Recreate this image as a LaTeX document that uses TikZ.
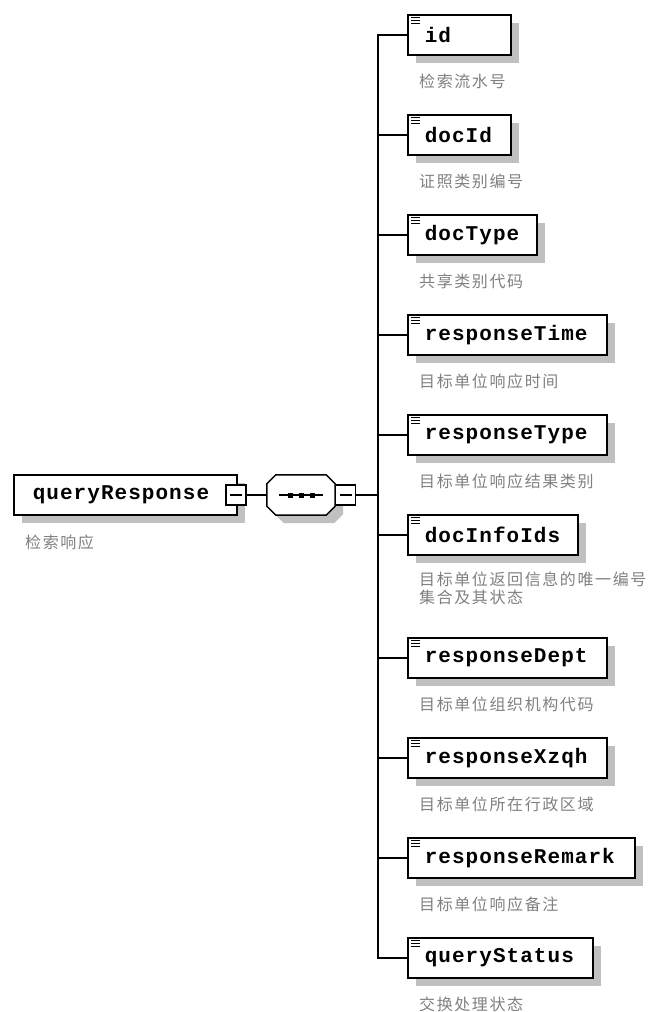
\documentclass[tikz,border=0pt]{standalone}
\usepackage{fontspec}
\usetikzlibrary{shadows,calc}
\newfontfamily\elemfont[LetterSpace=5]{Liberation Mono}
\newfontfamily\cjk[LetterSpace=10]{Noto Sans CJK SC}
\definecolor{shadowc}{HTML}{C0C0C0}
\definecolor{descc}{HTML}{808080}
\begin{document}
\begin{tikzpicture}[x=1pt,y=-1pt,
  conn/.style={line width=1.5pt, line join=miter},
  elem/.style={draw, line width=1.5pt, fill=white, anchor=west,
    drop shadow={shadow xshift=8pt,shadow yshift=-8pt,fill=shadowc,opacity=1},
    minimum height=40pt, inner xsep=0pt, inner ysep=0pt, align=left,
    font=\elemfont\bfseries\fontsize{21}{24}\selectfont},
  desc/.style={anchor=west, inner sep=0pt, align=left, text=descc,
    font=\cjk\fontsize{16}{19}\selectfont},
  icon/.style={line width=1pt},
  minusbox/.style={draw, line width=1.5pt, fill=white, minimum size=20pt, inner sep=0pt},
  seqbox/.style={minimum width=68pt, minimum height=40pt, inner sep=0pt}]
\useasboundingbox (0,0) rectangle (652,1012);
\newcommand\xicon[1]{%
  \foreach \dy in {3.5,6.5,9.5}
    \draw[icon] ($(#1.north west)+(4,\dy)$) -- ($(#1.north west)+(13,\dy)$);}
\newcommand\xelem[5]{%
  \node[elem, text width=#3pt] (#1) at (407,#2) {\hspace*{17pt}#4};
  \xicon{#1}
  \node[desc] (#1d) at (419,#2+46) {#5};
}
\newcommand\xoct{($(seq.north west)+(0,9)$) -- ($(seq.north west)+(9,0)$)
  -- ($(seq.north east)+(-9,0)$) -- ($(seq.north east)+(0,9)$)
  -- ($(seq.south east)+(0,-9)$) -- ($(seq.south east)+(-9,0)$)
  -- ($(seq.south west)+(9,0)$) -- ($(seq.south west)+(0,-9)$) -- cycle}
% root
\node[elem, text width=223pt] (root) at (13,495) {\hspace*{19pt}queryResponse};
\node[desc] (rootd) at (25,542) {检索响应};
\node[minusbox] (rminus) at (236,495) {};
\draw[conn] ($(rminus.center)+(-6,0)$) -- ($(rminus.center)+(6,0)$);
% sequence (octagon)
\node[seqbox] (seq) at (301,495) {};
\fill[shadowc, transform canvas={shift={(8pt,-8pt)}}] \xoct;
\draw[line width=1.5pt, fill=white] \xoct;
\node[minusbox] (sminus) at (345.5,495) {};
\draw[conn] ($(sminus.center)+(-6,0)$) -- ($(sminus.center)+(6,0)$);
\draw[conn] ($(seq.center)+(-22,0)$) -- ($(seq.center)+(22,0)$);
\foreach \dx in {-11,0,11}
  \fill ($(seq.center)+(\dx-2.5,-2.5)$) rectangle ($(seq.center)+(\dx+2.5,2.5)$);
\draw[conn] (rminus.east) -- (seq.west);
% children
\xelem{c1}{35}{103}{id}{检索流水号}
\xelem{c2}{135}{103}{docId}{证照类别编号}
\xelem{c3}{235}{129}{docType}{共享类别代码}
\xelem{c4}{335}{199}{responseTime}{目标单位响应时间}
\xelem{c5}{435}{199}{responseType}{目标单位响应结果类别}
\node[elem, text width=170pt] (c6) at (407,535) {\hspace*{17pt}docInfoIds};
\xicon{c6}
\node[desc, anchor=north west] (c6d) at (419,572) {目标单位返回信息的唯一编号\\[-1pt]集合及其状态};
\xelem{c7}{658}{199}{responseDept}{目标单位组织机构代码}
\xelem{c8}{758}{199}{responseXzqh}{目标单位所在行政区域}
\xelem{c9}{858}{227}{responseRemark}{目标单位响应备注}
\xelem{c10}{958}{185}{queryStatus}{交换处理状态}
% spine
\coordinate (spx) at (378,495);
\draw[conn] (sminus.east) -- (spx);
\draw[conn] (c1.west) -- (spx |- c1.west) -- (spx |- c10.west) -- (c10.west);
\foreach \c in {c2,c3,c4,c5,c6,c7,c8,c9}
  \draw[conn] (spx |- \c.west) -- (\c.west);
\end{tikzpicture}
\end{document}
